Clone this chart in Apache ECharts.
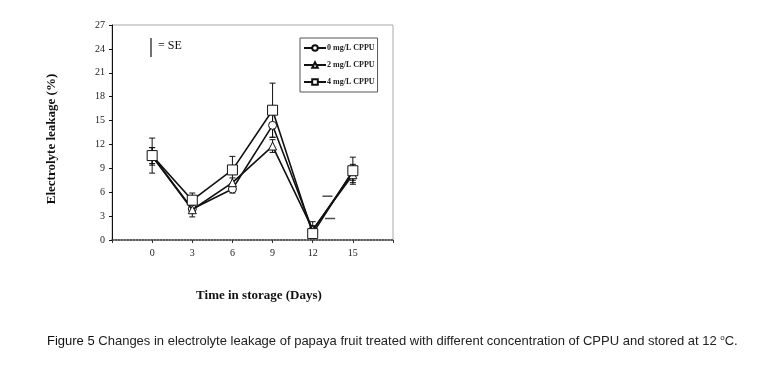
<!DOCTYPE html>
<html><head><meta charset="utf-8">
<script src="https://cdn.jsdelivr.net/npm/echarts@6/dist/echarts.min.js"></script>
<style>html,body{margin:0;padding:0;background:#fff}#c{width:772px;height:368px}</style>
</head><body><div id="c"></div>
<script>
const days = [0, 3, 6, 9, 12, 15];
const yTicks = [0, 3, 6, 9, 12, 15, 18, 21, 24, 27];
const seriesNames = ['0 mg/L CPPU', '2 mg/L CPPU', '4 mg/L CPPU'];
const cppu0 = [10.6, 3.9, 6.4, 14.4, 1.2, 8.5];
const cppu2 = [10.5, 3.8, 7.2, 11.8, 1.3, 8.2];
const cppu4 = [10.6, 5.0, 8.8, 16.3, 0.8, 8.7];
const se0 = [1.0, 0.5, 0.5, 1.5, 0.6, 1.0];
const se2 = [1.1, 0.9, 0.6, 0.8, 1.0, 1.0];
const se4 = [2.2, 0.9, 1.7, 3.4, 0.6, 1.7];
const strayMarks = [[13.1, 5.5], [13.3, 2.7]];

const serif = '"Liberation Serif","DejaVu Serif",serif';
const values = [cppu0, cppu2, cppu4];
const ses = [se0, se2, se4];
const symbols = ['circle', 'triangle', 'rect'];
const sizes = [8, 8, 10];

const series = [];
values.forEach((vals, i) => {
  series.push({
    name: seriesNames[i], type: 'line', data: days.map((d, j) => [d, vals[j]]),
    symbol: symbols[i], symbolSize: sizes[i], showAllSymbol: true,
    lineStyle: {color: '#111', width: 1.6},
    itemStyle: {color: '#fff', borderColor: '#111', borderWidth: 1},
    z: 3 + i
  });
  series.push({
    type: 'custom', silent: true, z: 2,
    data: days.map((d, j) => [d, vals[j] - ses[i][j], vals[j] + ses[i][j]]),
    renderItem: (params, api) => {
      const lo = api.coord([api.value(0), api.value(1)]);
      const hi = api.coord([api.value(0), api.value(2)]);
      const w = 3;
      const st = {stroke: '#111', lineWidth: 1};
      return {type: 'group', children: [
        {type: 'line', shape: {x1: lo[0], y1: lo[1], x2: hi[0], y2: hi[1]}, style: st},
        {type: 'line', shape: {x1: lo[0] - w, y1: lo[1], x2: lo[0] + w, y2: lo[1]}, style: st},
        {type: 'line', shape: {x1: hi[0] - w, y1: hi[1], x2: hi[0] + w, y2: hi[1]}, style: st}
      ]};
    }
  });
});
series.push({
  type: 'scatter', silent: true, data: strayMarks, symbol: 'rect', symbolSize: [10, 1.5],
  itemStyle: {color: '#222'}
});

const chart = echarts.init(document.getElementById('c'));
chart.setOption({
  backgroundColor: '#fff',
  animation: false,
  grid: {left: 112, right: 379, top: 25, bottom: 128, show: true, borderColor: '#aaa', borderWidth: 1, backgroundColor: 'transparent'},
  xAxis: {
    type: 'value', min: -3, max: 18, interval: 3,
    axisLine: {onZero: false, lineStyle: {color: '#333', width: 1.5, type: 'dotted'}},
    axisTick: {show: true, length: 3, lineStyle: {color: '#333'}},
    splitLine: {show: false},
    axisLabel: {fontFamily: serif, fontSize: 10, color: '#222', margin: 8,
      formatter: v => days.includes(v) ? String(v) : ''}
  },
  yAxis: {
    type: 'value', min: 0, max: 27, interval: 3,
    axisLine: {show: true, onZero: false, lineStyle: {color: '#111', width: 1}},
    axisTick: {show: true, length: 3, lineStyle: {color: '#111'}},
    splitLine: {show: false},
    axisLabel: {fontFamily: serif, fontSize: 10, color: '#222', margin: 7,
      formatter: v => yTicks.includes(v) ? String(v) : ''}
  },
  legend: {
    data: seriesNames, orient: 'vertical', left: 300, top: 38,
    itemWidth: 22, itemHeight: 7, itemGap: 9,
    padding: [6, 3, 6, 3], borderColor: '#555', borderWidth: 1,
    textStyle: {fontFamily: serif, fontSize: 8, fontWeight: 'bold', color: '#222', padding: [0, 0, 0, -4]}
  },
  graphic: [
    {type: 'line', shape: {x1: 151, y1: 38, x2: 151, y2: 57}, style: {stroke: '#111', lineWidth: 1.2}},
    {type: 'text', left: 158, top: 40, style: {text: '= SE', font: '12px ' + serif, fill: '#111'}},
    {type: 'text', x: 52, y: 139, rotation: Math.PI / 2, style: {text: 'Electrolyte leakage (%)', font: 'bold 13px ' + serif, fill: '#111', align: 'center', verticalAlign: 'middle'}},
    {type: 'text', x: 259, y: 296, style: {text: 'Time in storage (Days)', font: 'bold 13px ' + serif, fill: '#111', align: 'center', verticalAlign: 'middle'}},
    {type: 'text', left: 47, top: 334, style: {
      rich: {b: {fontFamily: '"Liberation Sans",Arial,sans-serif', fontSize: 13, fill: '#111'},
             n: {fontFamily: '"Liberation Sans",Arial,sans-serif', fontSize: 13, fill: '#222'},
             s: {fontFamily: '"Liberation Sans",Arial,sans-serif', fontSize: 8, fill: '#222', verticalAlign: 'top', padding: [0, 0, 6, 0]}},
      text: '{b|Figure 5}{n| Changes in electrolyte leakage of papaya fruit treated with different concentration of CPPU and stored at 12 }{s|o}{n|C.}'
    }}
  ],
  series: series
});
</script></body></html>
